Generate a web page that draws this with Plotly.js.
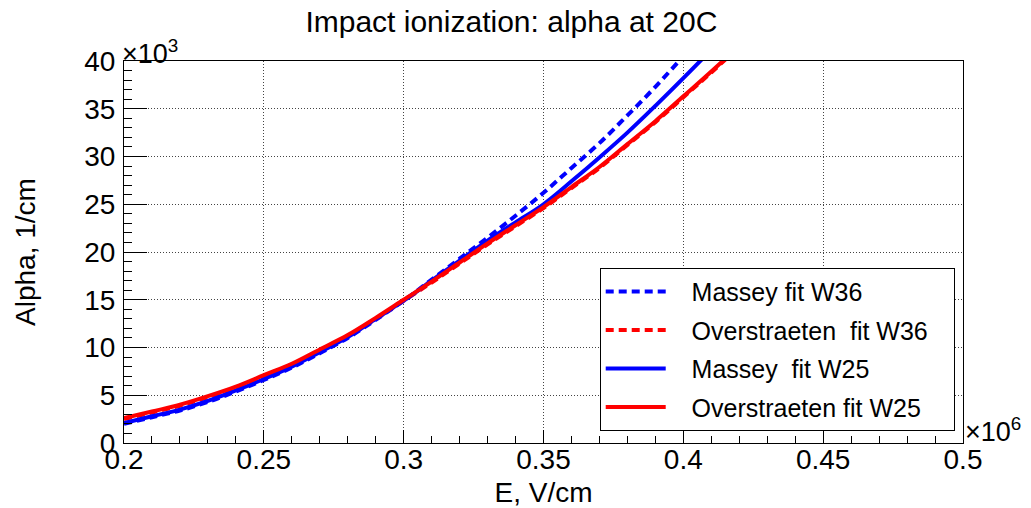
<!DOCTYPE html>
<html>
<head>
<meta charset="utf-8">
<script src="https://cdn.plot.ly/plotly-3.0.1.min.js"></script>
<style>html,body{margin:0;padding:0;background:#fff;}#chart{width:1031px;height:508px;}</style>
</head>
<body>
<div id="chart"></div>
<script>
// Electric field, V/cm
var fieldE = [200000, 210000, 220000, 230000, 240000, 250000, 260000, 270000, 280000, 290000,
              300000, 310000, 320000, 330000, 340000, 350000, 360000, 370000, 380000, 390000,
              400000, 410000, 420000];
// Alpha, 1/cm
var masseyW36 = [2000, 2700, 3400, 4300, 5400, 6600, 7900, 9400, 11000, 12900,
                 14900, 17100, 19300, 21500, 23800, 26200, 28800, 31400, 34300, 37300,
                 40500, 43800, 47200];
var overstraetenW36 = [2500, 3200, 3900, 4800, 5800, 7000, 8200, 9700, 11200, 13000,
                       14900, 16800, 18800, 20800, 22700, 24600, 26700, 28800, 31200, 33600,
                       36200, 38800, 41500];
var masseyW25 = [2100, 2800, 3500, 4400, 5500, 6700, 8000, 9500, 11100, 13000,
                 14900, 17000, 19100, 21200, 23100, 25000, 27400, 29900, 32500, 35300,
                 38200, 41200, 44300];
var overstraetenW25 = [2600, 3300, 4000, 4900, 5900, 7100, 8300, 9800, 11300, 13100,
                       15000, 16900, 18900, 20900, 22800, 24700, 26800, 28900, 31300, 33700,
                       36300, 38900, 41600];

var seriesNames = ['Massey fit W36', 'Overstraeten  fit W36', 'Massey  fit W25', 'Overstraeten fit W25'];

var xTickVals = [200000, 250000, 300000, 350000, 400000, 450000, 500000];
var xTickText = ['0.2', '0.25', '0.3', '0.35', '0.4', '0.45', '0.5'];
var yTickVals = [0, 5000, 10000, 15000, 20000, 25000, 30000, 35000, 40000];
var yTickText = ['0', '5', '10', '15', '20', '25', '30', '35', '40'];

var FONT = 'Liberation Sans, Arial, sans-serif';
var PADL = '\u00a0\u00a0\u00a0';
var PADR = '\u00a0\u00a0\u00a0';

var traces = [
  {x: fieldE, y: masseyW36, name: PADL + seriesNames[0], mode: 'lines', legendgroup: 'a',
   line: {color: '#0000ff', width: 4, dash: '8px,5px', shape: 'spline'}},
  {x: fieldE, y: overstraetenW36, name: PADL + seriesNames[1] + PADR, mode: 'lines', legendgroup: 'b',
   line: {color: '#ff0000', width: 4, dash: '8px,5px', shape: 'spline'}},
  {x: fieldE, y: masseyW25, name: PADL + seriesNames[2], mode: 'lines', legendgroup: 'c',
   line: {color: '#0000ff', width: 4, shape: 'spline'}},
  {x: fieldE, y: overstraetenW25, name: PADL + seriesNames[3], mode: 'lines', legendgroup: 'd',
   line: {color: '#ff0000', width: 4, shape: 'spline'}}
];

var layout = {
  width: 1031, height: 508,
  margin: {l: 124, r: 68, t: 61, b: 65},
  paper_bgcolor: '#ffffff', plot_bgcolor: '#ffffff',
  font: {family: FONT, size: 28, color: '#000'},
  title: {text: 'Impact ionization: alpha at 20C', font: {family: FONT, size: 30, color: '#000'},
          x: 0.496, xanchor: 'center', y: 0.958, yanchor: 'middle'},
  showlegend: true,
  legend: {x: 0.567, y: 0.459, xanchor: 'left', yanchor: 'top', bgcolor: '#ffffff',
           bordercolor: '#000', borderwidth: 1, font: {family: FONT, size: 25, color: '#000'},
           traceorder: 'grouped', tracegroupgap: 3, itemwidth: 60},
  xaxis: {
    range: [200000, 500000], tickmode: 'array', tickvals: xTickVals, ticktext: xTickText,
    ticks: 'inside', ticklen: 13, tickwidth: 1, tickcolor: '#000',
    minor: {dtick: 10000, ticks: 'inside', ticklen: 7, tickcolor: '#000', showgrid: false},
    showline: true, linecolor: '#000', linewidth: 1, mirror: true,
    showgrid: true, gridcolor: '#444', griddash: '1px,2px', gridwidth: 1,
    zeroline: false, tickfont: {family: FONT, size: 28}, ticklabelstandoff: -9,
    title: {text: 'E, V/cm', font: {family: FONT, size: 28}, standoff: 8}
  },
  yaxis: {
    range: [0, 40000], tickmode: 'array', tickvals: yTickVals, ticktext: yTickText,
    ticks: 'inside', ticklen: 23, tickwidth: 1, tickcolor: '#000',
    minor: {dtick: 1000, ticks: 'inside', ticklen: 8, tickcolor: '#000', showgrid: false},
    showline: true, linecolor: '#000', linewidth: 1, mirror: true,
    showgrid: true, gridcolor: '#444', griddash: '1px,2px', gridwidth: 1,
    zeroline: false, tickfont: {family: FONT, size: 28}, ticklabelstandoff: 2,
    title: {text: 'Alpha, 1/cm', font: {family: FONT, size: 28}, standoff: 40}
  },
  annotations: [
    {text: '×10<sup>3</sup>', xref: 'paper', yref: 'paper', x: 0, y: 1, xanchor: 'left', yanchor: 'bottom',
     showarrow: false, font: {family: FONT, size: 27}, xshift: -4, yshift: -10},
    {text: '×10<sup>6</sup>', xref: 'paper', yref: 'paper', x: 1, y: 0, xanchor: 'left', yanchor: 'bottom',
     showarrow: false, font: {family: FONT, size: 27}, xshift: 0, yshift: -6}
  ]
};

Plotly.newPlot('chart', traces, layout, {displayModeBar: false, staticPlot: true});
</script>
</body>
</html>
